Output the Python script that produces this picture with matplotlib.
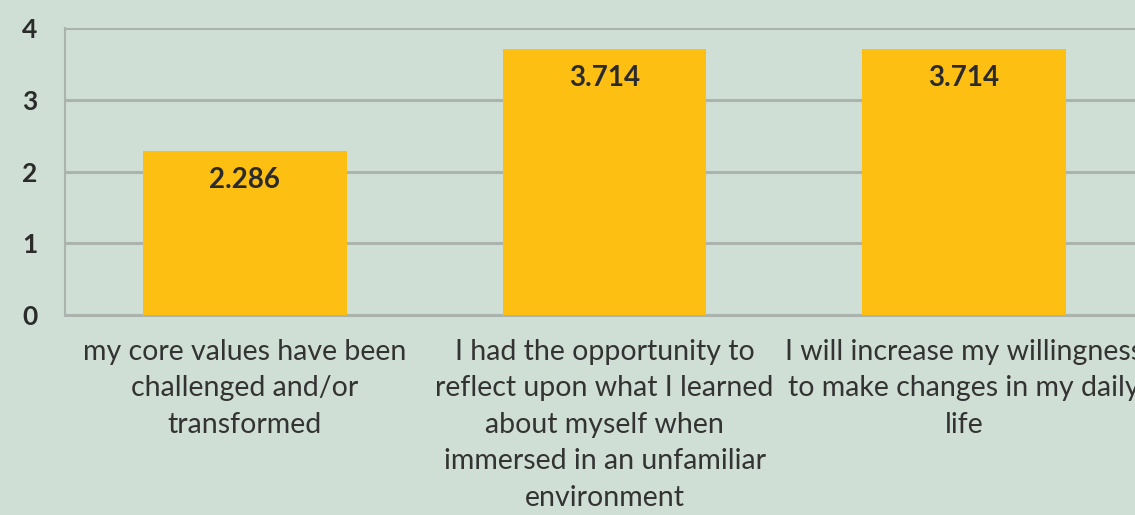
import matplotlib
matplotlib.use("Agg")
import matplotlib.pyplot as plt

categories = [
    "my core values have been\nchallenged and/or\ntransformed",
    "I had the opportunity to\nreflect upon what I learned\nabout myself when\nimmersed in an unfamiliar\nenvironment",
    "I will increase my willingness\nto make changes in my daily\nlife",
]
values = [2.286, 3.714, 3.714]
value_labels = ["2.286", "3.714", "3.714"]
y_ticks = [0, 1, 2, 3, 4]

BG = "#d0dfd5"
BAR = "#fdbf12"
GRID = "#aab3ad"
TXT = "#2b2b2b"

plt.rcParams["font.family"] = ["Lato", "DejaVu Sans"]

fig = plt.figure(figsize=(11.35, 5.15), dpi=100, facecolor=BG)
ax = fig.add_axes([65 / 1135, 1 - 315 / 515, (1144 - 65) / 1135, (315 - 28) / 515])
ax.set_facecolor(BG)

x = range(len(values))
bars = ax.bar(x, values, width=0.567, color=BAR, zorder=3)

ax.set_xlim(-0.5, len(values) - 0.5)
ax.set_ylim(0, 4)
ax.set_yticks(y_ticks)
ax.set_yticklabels([str(t) for t in y_ticks], fontsize=19, color=TXT, fontweight="bold")
ax.set_xticks(list(x))
# the right-hand label runs past the figure edge, as in the source image
ax.set_xticklabels(categories, fontsize=20.5, color="#333333", linespacing=1.5, va="top")
ax.tick_params(axis="both", length=0)
ax.tick_params(axis="x", pad=17)
ax.tick_params(axis="y", pad=20)

ax.yaxis.grid(True, color=GRID, lw=2.2, zorder=0)
for s in ["top", "right"]:
    ax.spines[s].set_visible(False)
ax.spines["left"].set_color(GRID)
ax.spines["left"].set_linewidth(1.5)
ax.spines["bottom"].set_color(GRID)
ax.spines["bottom"].set_linewidth(2.2)

for b, lab in zip(bars, value_labels):
    ax.annotate(lab, (b.get_x() + b.get_width() / 2, b.get_height()),
                xytext=(0, -29), textcoords="offset pixels",
                ha="center", va="center", fontsize=20, fontweight="bold",
                color=TXT, zorder=4)

fig.savefig("out.png", dpi=100, facecolor=BG)
